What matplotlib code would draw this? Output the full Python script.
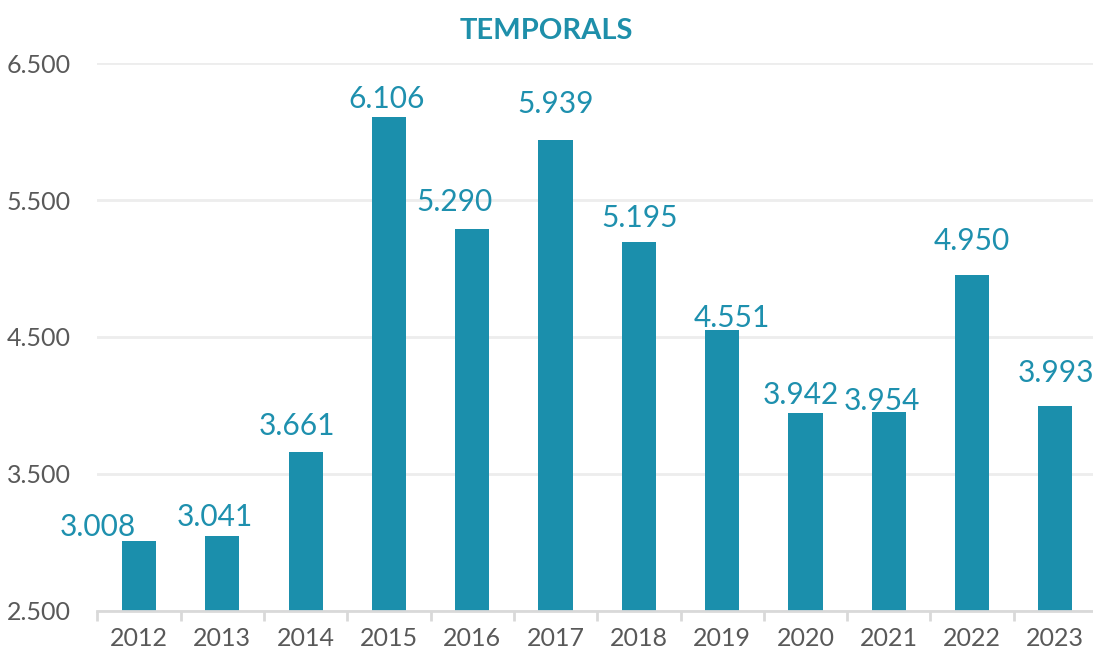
import matplotlib
matplotlib.use("Agg")
import matplotlib.pyplot as plt

# ---- data ----
years = ["2012", "2013", "2014", "2015", "2016", "2017",
         "2018", "2019", "2020", "2021", "2022", "2023"]
values = [3008, 3041, 3661, 6106, 5290, 5939, 5195, 4551, 3942, 3954, 4950, 3993]
value_labels = ["3.008", "3.041", "3.661", "6.106", "5.290", "5.939",
                "5.195", "4.551", "3.942", "3.954", "4.950", "3.993"]
y_ticks = [2500, 3500, 4500, 5500, 6500]
y_tick_labels = ["2.500", "3.500", "4.500", "5.500", "6.500"]
title = "TEMPORALS"

# ---- layout / style (label offsets in pixels from bar top-centre) ----
label_dx = [-41, -8, -9, -2, -18, 0, 1, 10, -5, -7, 0, 1]
label_dy = [5, 10, 17, 9, 18, 27, 15, 3, 9, 2, 25, 24]

BAR = "#1B8FAC"
LABEL = "#1E90AE"
TICK = "#595959"
FONT = ["Lato", "DejaVu Sans"]

plt.rcParams["font.family"] = FONT
DPI = 100
W, H = 1093, 664
fig = plt.figure(figsize=(W / DPI, H / DPI), dpi=DPI)

left, right = 97.4, 1097.0
top, bottom = 63.3, 610.5
ax = fig.add_axes([left / W, 1 - bottom / H, (right - left) / W, (bottom - top) / H])

x = list(range(len(years)))
ax.bar(x, values, width=0.41, color=BAR, zorder=3)

ax.set_xlim(-0.5, len(years) - 0.5)
ax.set_ylim(2500, 6500)
ax.set_yticks(y_ticks)
ax.set_yticklabels(y_tick_labels)
ax.set_xticks(x)
ax.set_xticklabels(years)

ax.grid(axis="y", color="#EDEDED", linewidth=2.0, zorder=0)
ax.set_axisbelow(True)
for s in ["top", "right", "left"]:
    ax.spines[s].set_visible(False)
ax.spines["bottom"].set_color("#D9D9D9")
ax.spines["bottom"].set_linewidth(2.0)
ax.spines["bottom"].set_zorder(4)

ax.tick_params(axis="y", length=0, pad=19, labelsize=18, labelcolor=TICK)
ax.tick_params(axis="x", which="major", length=0, pad=12, labelsize=18, labelcolor=TICK)
# tick marks between categories
ax.set_xticks([i + 0.5 for i in range(-1, len(years))], minor=True)
ax.tick_params(axis="x", which="minor", length=7, width=2, color="#D9D9D9")

for i, (v, lab) in enumerate(zip(values, value_labels)):
    ax.annotate(lab, xy=(i, v), xytext=(label_dx[i] * 0.72, label_dy[i] * 0.72),
                textcoords="offset points", ha="center", va="baseline",
                fontsize=21.5, color=LABEL, annotation_clip=False, zorder=5)

fig.text(546 / W, 1 - 31 / H, title, ha="center", va="center",
         fontsize=21, fontweight="bold", color="#1E8FAA")

fig.savefig("out.png", dpi=DPI, facecolor="white")
